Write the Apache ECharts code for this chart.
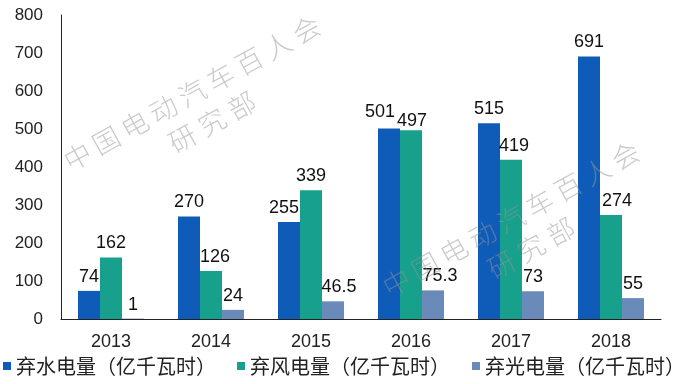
<!DOCTYPE html>
<html>
<head>
<meta charset="utf-8">
<script src="https://cdn.jsdelivr.net/npm/echarts@6/dist/echarts.min.js"></script>
<style>html,body{margin:0;padding:0;background:#fff}#c{width:677px;height:384px}</style>
</head>
<body>
<div id="c"></div>
<script>
var categories = ['2013', '2014', '2015', '2016', '2017', '2018'];
var seriesNames = ['弃水电量（亿千瓦时）', '弃风电量（亿千瓦时）', '弃光电量（亿千瓦时）'];
var hydro = [74, 270, 255, 501, 515, 691];
var wind = [162, 126, 339, 497, 419, 274];
var solar = [1, 24, 46.5, 75.3, 73, 55];
var yTicks = {min: 0, max: 800, interval: 100};
var watermarkLine1 = '中国电动汽车百人会';
var watermarkLine2 = '研究部';

var colors = ['#0f5cb8', '#17a08b', '#6a8aba'];
var legendLefts = [3, 237, 472];
// label nudges (pixel offsets) per series index and category index
var labelNudge = {
  '0-2': [-5, 0], '0-3': [-9, -3],
  '1-1': [4, 0], '1-3': [1, 5], '1-4': [3, 0], '1-5': [6, 0],
  '2-2': [6, 0], '2-3': [7, 0]
};
function buildData(vals, si) {
  return vals.map(function (v, ci) {
    var n = labelNudge[si + '-' + ci];
    var item = {value: v};
    if (n) item.label = {offset: n};
    return item;
  });
}
var allVals = [hydro, wind, solar];
var series = allVals.map(function (vals, si) {
  return {
    name: seriesNames[si],
    type: 'bar',
    barWidth: 22,
    barGap: '0%',
    itemStyle: {color: colors[si]},
    label: {
      show: true, position: 'top', distance: 5,
      fontSize: 18, color: '#111', fontFamily: 'Liberation Sans, Arial, sans-serif'
    },
    data: buildData(vals, si)
  };
});

var legends = seriesNames.map(function (nm, i) {
  return {
    data: [nm], left: legendLefts[i], top: 356, icon: 'rect', padding: 0,
    itemWidth: 8, itemHeight: 8,
    textStyle: {fontSize: 20, color: '#222', fontFamily: 'Noto Sans CJK SC'}
  };
});

// watermark: characters placed along a rotated line
var angle = 29 * Math.PI / 180;
function wmChars(text, cx, cy, step) {
  var out = [];
  var n = text.length;
  for (var i = 0; i < n; i++) {
    var d = (i - (n - 1) / 2) * step;
    out.push({
      type: 'text', z: 100, silent: true,
      x: cx + d * Math.cos(angle), y: cy - d * Math.sin(angle),
      rotation: angle,
      style: {
        text: text[i], fill: 'rgba(150,150,150,0.5)',
        font: '300 27px "Noto Sans CJK SC"',
        align: 'center', verticalAlign: 'middle'
      }
    });
  }
  return out;
}
var graphics = [].concat(
  wmChars(watermarkLine1, 192, 93, 32.7),
  wmChars(watermarkLine2, 212, 122, 34),
  wmChars(watermarkLine1, 511, 219, 32.7),
  wmChars(watermarkLine2, 531, 248, 34)
);

var chart = echarts.init(document.getElementById('c'));
chart.setOption({
  animation: false,
  backgroundColor: '#fff',
  grid: {left: 61, right: 16, top: 15, bottom: 65},
  legend: legends,
  xAxis: {
    type: 'category', data: categories,
    axisLine: {lineStyle: {color: '#222', width: 1}},
    axisTick: {show: false},
    axisLabel: {fontSize: 18, color: '#222', margin: 14, fontFamily: 'Liberation Sans, Arial, sans-serif'}
  },
  yAxis: {
    type: 'value', min: yTicks.min, max: yTicks.max, interval: yTicks.interval,
    axisLine: {show: true, lineStyle: {color: '#222', width: 1}},
    axisTick: {show: false},
    splitLine: {show: false},
    axisLabel: {fontSize: 17, color: '#222', margin: 18, fontFamily: 'Liberation Sans, Arial, sans-serif'}
  },
  series: series,
  graphic: graphics
});
</script>
</body>
</html>
